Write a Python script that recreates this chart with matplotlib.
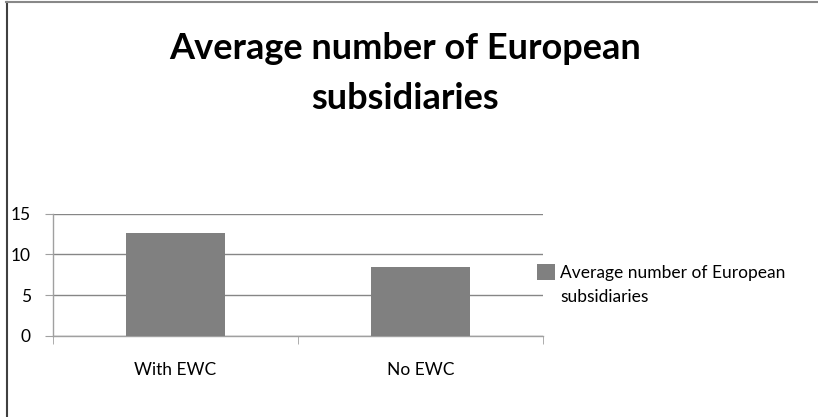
import matplotlib
matplotlib.use("Agg")
import matplotlib.pyplot as plt
from matplotlib.lines import Line2D

categories = ["With EWC", "No EWC"]
values = [12.65, 8.5]
series_name = "Average number of European\nsubsidiaries"
title_lines = ["Average number of European", "subsidiaries"]
yticks = [0, 5, 10, 15]

W, H = 818, 417
fig = plt.figure(figsize=(W / 100, H / 100), dpi=100)
plt.rcParams['font.family'] = ['Lato', 'DejaVu Sans']

ax = fig.add_axes([53 / W, 1 - 336 / H, 490 / W, 122.3 / H])
x = list(range(len(categories)))
bars = ax.bar(x, values, width=0.404, color="#808080", zorder=3, label=series_name)
ax.set_xlim(-0.5, len(categories) - 0.5)
ax.set_ylim(0, 15)
ax.set_yticks(yticks)
ax.set_yticklabels([str(v) for v in yticks], fontsize=12.5, color="#000000")
ax.yaxis.grid(True, color="#868686", linewidth=1.0, zorder=0)
ax.set_axisbelow(True)
for s in ["top", "right"]:
    ax.spines[s].set_visible(False)
ax.spines["left"].set_color("#a0a0a0")
ax.spines["bottom"].set_color("#a0a0a0")
ax.spines["left"].set_linewidth(1.0)
ax.spines["bottom"].set_linewidth(1.0)
ax.tick_params(axis="y", length=6, color="#a0a0a0", pad=10)
# category labels at centers, tick marks at boundaries
ax.set_xticks(x)
ax.set_xticklabels(categories, fontsize=12.5)
ax.tick_params(axis="x", length=0, pad=19)
ax.set_xticks([-0.5, 0.5, 1.5], minor=True)
ax.tick_params(axis="x", which="minor", length=6, color="#a0a0a0")

# title
fig.text(405 / W, 1 - 59 / H, title_lines[0], ha="center", va="baseline",
         fontsize=26, fontweight="bold")
fig.text(405 / W, 1 - 109 / H, title_lines[1], ha="center", va="baseline",
         fontsize=26, fontweight="bold")

# legend
leg = ax.legend(loc="center left", bbox_to_anchor=(537 / W, 1 - 285 / H),
                bbox_transform=fig.transFigure, frameon=False, fontsize=12.5,
                handlelength=1.05, handleheight=1.05, handletextpad=0.3,
                borderpad=0, borderaxespad=0)
for t in leg.get_texts():
    t.set_linespacing(1.55)
    t.set_multialignment("left")
h = leg.legend_handles[0]
h.set_y(h.get_y() + 0.78 * 12.5)

# chart border (left and top edges visible)
fig.add_artist(Line2D([6.5 / W, 6.5 / W], [0, 1 - 1.5 / H], transform=fig.transFigure,
                      color="#404040", linewidth=1.5))
fig.add_artist(Line2D([6 / W, 1], [1 - 1.5 / H, 1 - 1.5 / H], transform=fig.transFigure,
                      color="#888888", linewidth=1.5))

fig.savefig("out.png", dpi=100)
